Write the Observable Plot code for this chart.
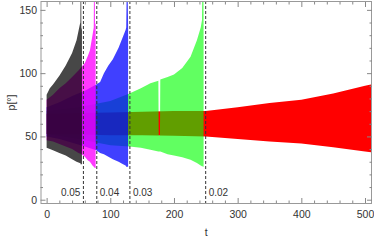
<!DOCTYPE html>
<html>
<head>
<meta charset="utf-8">
<script src="https://cdn.jsdelivr.net/npm/d3@7"></script>
<script src="https://cdn.jsdelivr.net/npm/@observablehq/plot@0.6"></script>
<style>
  html, body { margin: 0; padding: 0; background: #fff; }
  #chart svg { display: block; }
</style>
</head>
<body>
<div id="chart"></div>
<script>
// Envelopes (upper / lower extent of the dense oscillations)
const blackT  = [0, 5, 10, 20, 30, 40, 47, 52, 53, 53.3, 54.3, 54.6, 55.5];
const blackHi = [83, 88, 91, 98, 106, 116, 126, 138, 140, 175, 175, 136, 134];
const blackLo = [41, 40, 39, 37, 35, 32, 30, 29, 29, 28, 28, 28, 28];

const magT  = [0, 10, 20, 30, 40, 50, 55, 60, 65, 68, 72, 74, 74.5, 75.5, 76, 77];
const magHi = [79, 83, 88, 92, 97, 102, 105, 108, 114, 118, 130, 136, 175, 175, 140, 138];
const magLo = [47, 46, 44, 42, 40, 37, 36, 34, 31, 30, 27, 26, 26, 25, 25, 25];

const blueT  = [0, 20, 40, 60, 78, 84, 90, 97, 104, 113, 120, 124, 125, 126, 127, 128];
const blueHi = [73, 77, 82, 86, 91, 93, 100, 106, 111, 120, 129, 134, 136, 175, 175, 136];
const blueLo = [50, 48, 45, 42, 39, 37, 36, 34, 32, 30, 28, 27, 26, 26, 26, 26];

const greenT  = [0, 50, 100, 130, 148, 163, 175.5, 176, 178, 178.5, 190, 200, 213, 226, 236, 242, 244, 244.5, 246, 246.5];
const greenHi = [70, 73, 78, 84, 88, 92, 94, 51, 51, 95, 97, 99, 104, 113, 126, 136, 142, 175, 175, 145];
const greenLo = [52, 48, 43, 42, 41, 39.5, 38, 38, 38, 38, 36, 35, 33.5, 31.5, 29, 27, 26.5, 26.5, 26, 26];

const redT  = [0, 50, 100, 150, 200, 250, 300, 350, 400, 450, 500, 510];
const redHi = [68, 68.5, 69, 69.5, 70, 70, 73, 76.5, 79, 84, 90, 91];
const redLo = [52, 51.5, 51, 51, 50.5, 50, 48, 46, 44.5, 41.5, 38, 37.5];

// Dashed markers and their labels
const markT = [57, 78, 130, 249];
const markLabels = ["0.05", "0.04", "0.03", "0.02"];

// Axis ticks
const xTicks = [0, 100, 200, 300, 400, 500];
const yTicks = [0, 50, 100, 150];
const xMinor = d3.range(20, 501, 20).filter(v => v % 100 !== 0);
const yMinor = d3.range(10, 151, 10).filter(v => v % 50 !== 0);

const rows = (T, H, L) => T.map((t, i) => ({t, hi: H[i], lo: L[i]}));

const series = [
  {data: rows(redT, redHi, redLo), fill: "#ff0000", op: 1},
  {data: rows(greenT, greenHi, greenLo), fill: "#00ff00", op: 0.62},
  {data: rows(blueT, blueHi, blueLo), fill: "#0000ff", op: 0.75},
  {data: rows(magT, magHi, magLo), fill: "#ff00ff", op: 0.78},
  {data: rows(blackT, blackHi, blackLo), fill: "#000000", op: 0.72}
];

const labelRows = markT.map((t, i) => ({t, label: markLabels[i], left: i === 0}));

const tickGray = "#888";
const textGray = "#333";

const plot = Plot.plot({
  width: 374,
  height: 241,
  marginLeft: 40.5,
  marginRight: 3,
  marginTop: 1,
  marginBottom: 38,
  style: {fontFamily: "'Liberation Sans', Arial, sans-serif", fontSize: "10.5px", background: "#fff", color: textGray},
  x: {domain: [-9.6, 509.4]},
  y: {domain: [-2.6, 157]},
  marks: [
    ...series.map(s => Plot.areaY(s.data, {x: "t", y1: "lo", y2: "hi", fill: s.fill, fillOpacity: s.op, clip: true, curve: "linear"})),
    Plot.ruleX(markT, {stroke: "#333", strokeDasharray: "3,2", strokeWidth: 1}),
    Plot.text(labelRows.filter(d => d.left), {x: "t", y: () => 5.5, text: "label", textAnchor: "end", dx: -3, fontSize: 10, fill: textGray}),
    Plot.text(labelRows.filter(d => !d.left), {x: "t", y: () => 5.5, text: "label", textAnchor: "start", dx: 3, fontSize: 10, fill: textGray}),
    Plot.frame({stroke: "#999"}),
    // left axis
    Plot.axisY({anchor: "left", ticks: yTicks, tickSize: -5, tickPadding: 9, tickFormat: d => d, color: textGray, stroke: tickGray, fill: textGray,
      label: "p[°]", labelAnchor: "center", labelArrow: "none", labelOffset: 33}),
    Plot.axisY({anchor: "left", ticks: yMinor, tickSize: -2.5, tickFormat: () => "", stroke: tickGray, label: null}),
    // right axis
    Plot.axisY({anchor: "right", ticks: yTicks, tickSize: -5, tickFormat: () => "", stroke: tickGray, label: null}),
    Plot.axisY({anchor: "right", ticks: yMinor, tickSize: -2.5, tickFormat: () => "", stroke: tickGray, label: null}),
    // bottom axis
    Plot.axisX({anchor: "bottom", ticks: xTicks, tickSize: -5, tickPadding: 12, tickFormat: d => d, color: textGray, stroke: tickGray, fill: textGray,
      label: "t", labelAnchor: "center", labelArrow: "none", labelOffset: 32}),
    Plot.axisX({anchor: "bottom", ticks: xMinor, tickSize: -2.5, tickFormat: () => "", stroke: tickGray, label: null}),
    // top axis
    Plot.axisX({anchor: "top", ticks: xTicks, tickSize: -5, tickFormat: () => "", stroke: tickGray, label: null}),
    Plot.axisX({anchor: "top", ticks: xMinor, tickSize: -2.5, tickFormat: () => "", stroke: tickGray, label: null})
  ]
});
document.getElementById("chart").appendChild(plot);
</script>
</body>
</html>
